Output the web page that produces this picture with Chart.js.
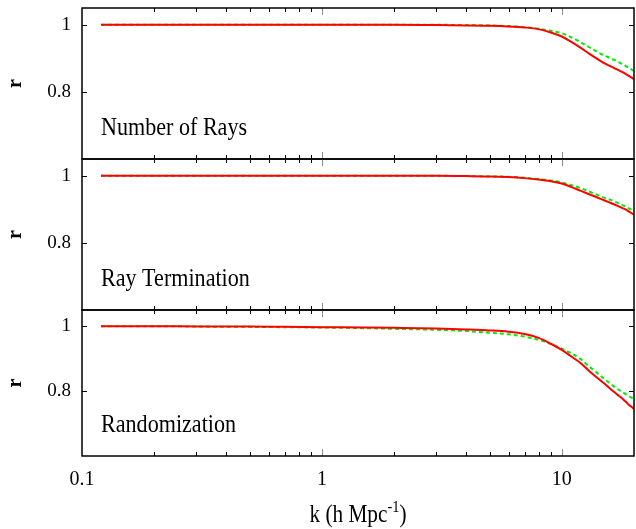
<!DOCTYPE html>
<html>
<head>
<meta charset="utf-8">
<script src="https://cdn.jsdelivr.net/npm/chart.js@4/dist/chart.umd.min.js"></script>
<style>
  body { margin: 0; background: #fff; }
  #wrap { position: relative; width: 636px; height: 529px; }
  #wrap canvas { position: absolute; left: 0; top: 0; }
</style>
</head>
<body>
<div id="wrap">
  <canvas id="panel-rays" width="636" height="529"></canvas>
  <canvas id="panel-term" width="636" height="529"></canvas>
  <canvas id="panel-rand" width="636" height="529"></canvas>
</div>
<script>
// k values (h Mpc^-1) shared by all three panels
const kValues = [0.12, 0.15, 0.2, 0.3, 0.5, 0.7, 1, 1.5, 2, 3, 4, 5, 6, 7, 8, 9, 10,
                 11, 12, 13, 14, 15, 16, 17, 18, 18.5, 19, 19.5, 20];

// Number of Rays
const raysRed   = [1, 1, 1, 1, 1, 1, 1, 1, 1, 0.999, 0.998, 0.997, 0.995, 0.992, 0.987, 0.977, 0.965,
                   0.948, 0.931, 0.914, 0.899, 0.886, 0.876, 0.867, 0.858, 0.853, 0.848, 0.843, 0.838];
const raysGreen = [1, 1, 1, 1, 1, 1, 1, 1, 1, 1, 0.999, 0.998, 0.996, 0.993, 0.988, 0.982, 0.975,
                   0.962, 0.948, 0.933, 0.920, 0.909, 0.900, 0.891, 0.882, 0.877, 0.872, 0.867, 0.862];

// Ray Termination
const termRed   = [1, 1, 1, 1, 1, 1, 1, 1, 1, 1, 0.999, 0.998, 0.996, 0.993, 0.989, 0.984, 0.977,
                   0.966, 0.955, 0.945, 0.936, 0.927, 0.919, 0.911, 0.903, 0.899, 0.894, 0.889, 0.884];
const termGreen = [1, 1, 1, 1, 1, 1, 1, 1, 1, 1, 0.999, 0.998, 0.997, 0.994, 0.990, 0.986, 0.980,
                   0.972, 0.963, 0.953, 0.944, 0.935, 0.928, 0.920, 0.912, 0.908, 0.903, 0.899, 0.895];

// Randomization
const randRed   = [1, 1, 1, 0.9995, 0.999, 0.998, 0.997, 0.996, 0.995, 0.993, 0.990, 0.987, 0.983, 0.976, 0.964, 0.946, 0.927,
                   0.906, 0.886, 0.862, 0.842, 0.824, 0.806, 0.790, 0.775, 0.767, 0.758, 0.752, 0.745];
const randGreen = [1, 1, 1, 0.999, 0.998, 0.997, 0.996, 0.994, 0.992, 0.989, 0.985, 0.980, 0.975, 0.968, 0.958, 0.945, 0.931,
                   0.916, 0.898, 0.876, 0.857, 0.838, 0.822, 0.807, 0.796, 0.790, 0.785, 0.780, 0.776];

const xTicks = [0.1, 1, 10];
const yTicks = [0.8, 1];

const serif = "'Liberation Serif', 'Times New Roman', serif";

function isDecade(v) {
  const e = Math.log10(v);
  return Math.abs(e - Math.round(e)) < 1e-6;
}
function isWholeStep(v) {
  const m = v / Math.pow(10, Math.floor(Math.log10(v) + 1e-9));
  return Math.abs(m - Math.round(m)) < 1e-6;
}

// frame, inward ticks, panel text
const panelFrame = {
  id: 'panelFrame',
  afterDraw(chart, args, opts) {
    const ctx = chart.ctx, a = chart.chartArea;
    const xs = chart.scales.x, ys = chart.scales.y;
    ctx.save();

    xs.ticks.forEach(t => {
      if (t.value <= xs.min || t.value >= xs.max || !isWholeStep(t.value)) return;
      const px = Math.round(xs.getPixelForValue(t.value)) + 0.5;
      const major = isDecade(t.value);
      const len = major ? 7 : 4;
      ctx.strokeStyle = major ? '#8c8c8c' : '#000';
      ctx.lineWidth = 1;
      ctx.beginPath();
      ctx.moveTo(px, a.bottom); ctx.lineTo(px, a.bottom - len);
      ctx.moveTo(px, a.top); ctx.lineTo(px, a.top + len);
      ctx.stroke();
    });

    ctx.strokeStyle = '#000';
    ys.ticks.forEach(t => {
      const py = Math.round(ys.getPixelForValue(t.value)) + 0.5;
      ctx.beginPath();
      ctx.moveTo(a.left, py); ctx.lineTo(a.left + 5, py);
      ctx.moveTo(a.right, py); ctx.lineTo(a.right - 5, py);
      ctx.stroke();
    });

    ctx.lineWidth = 1.5;
    ctx.strokeRect(a.left, a.top, a.right - a.left, a.bottom - a.top);

    ctx.fillStyle = '#000';
    // panel label
    ctx.save();
    ctx.font = '26px ' + serif;
    ctx.textBaseline = 'alphabetic';
    ctx.translate(a.left + 19, a.bottom - 24);
    ctx.scale(0.85, 1);
    ctx.fillText(opts.label, 0, 0);
    ctx.restore();

    // y title
    ctx.save();
    ctx.font = 'bold 20px ' + serif;
    ctx.textAlign = 'center';
    ctx.textBaseline = 'middle';
    ctx.translate(16, (a.top + a.bottom) / 2);
    ctx.rotate(-Math.PI / 2);
    ctx.fillText('r', 0, 0);
    ctx.restore();

    // x title with superscript
    if (opts.xTitle) {
      const sx = 0.85;
      const main = 'k (h Mpc', sup = '-1', close = ')';
      ctx.font = '25px ' + serif;
      const w1 = ctx.measureText(main).width * sx;
      const w3 = ctx.measureText(close).width * sx;
      ctx.font = '17px ' + serif;
      const w2 = ctx.measureText(sup).width * sx;
      let x = (a.left + a.right) / 2 - (w1 + w2 + w3) / 2;
      const base = 522;
      ctx.textBaseline = 'alphabetic';
      ctx.save(); ctx.translate(x, base); ctx.scale(sx, 1);
      ctx.font = '25px ' + serif; ctx.fillText(main, 0, 0); ctx.restore();
      x += w1;
      ctx.save(); ctx.translate(x, base - 10); ctx.scale(sx, 1);
      ctx.font = '17px ' + serif; ctx.fillText(sup, 0, 0); ctx.restore();
      x += w2;
      ctx.save(); ctx.translate(x, base); ctx.scale(sx, 1);
      ctx.font = '25px ' + serif; ctx.fillText(close, 0, 0); ctx.restore();
    }
    ctx.restore();
  }
};

function makePanel(id, label, red, green, top, bottom, showX) {
  return new Chart(document.getElementById(id), {
    type: 'line',
    data: {
      datasets: [
        {
          label: label + ' (red)',
          data: kValues.map((k, i) => ({ x: k, y: red[i] })),
          borderColor: '#ff0000',
          borderWidth: 2,
          pointRadius: 0,
          cubicInterpolationMode: 'monotone'
        },
        {
          label: label + ' (green)',
          data: kValues.map((k, i) => ({ x: k, y: green[i] })),
          borderColor: '#00ee00',
          borderWidth: 2,
          borderDash: [4, 3],
          pointRadius: 0,
          cubicInterpolationMode: 'monotone'
        }
      ]
    },
    options: {
      responsive: false,
      animation: false,
      devicePixelRatio: 1,
      layout: { padding: { top: top, bottom: bottom, left: 0, right: 2 } },
      plugins: {
        legend: { display: false },
        tooltip: { enabled: false },
        panelFrame: { label: label, xTitle: showX }
      },
      scales: {
        x: {
          type: 'logarithmic',
          min: 0.1,
          max: 20,
          grid: { display: false, drawTicks: false },
          border: { display: false },
          ticks: {
            display: showX,
            autoSkip: false,
            maxRotation: 0,
            padding: 12,
            color: '#000',
            font: { family: serif, size: 20 },
            callback: function (value) {
              const hit = xTicks.find(t => Math.abs(value - t) < t * 1e-6);
              return hit !== undefined ? String(hit) : '';
            }
          },
          afterFit: function (scale) {
            scale.height = showX ? 73 : 0;
            scale.paddingLeft = 0;
            scale.paddingRight = 0;
          }
        },
        y: {
          min: 0.6,
          max: 1.05,
          afterBuildTicks: function (scale) {
            scale.ticks = yTicks.map(v => ({ value: v }));
          },
          grid: { display: false, drawTicks: false },
          border: { display: false },
          ticks: {
            padding: 11,
            color: '#000',
            font: { family: serif, size: 19 },
            callback: function (value) { return String(value); }
          },
          afterFit: function (scale) {
            scale.width = 82;
            scale.paddingTop = 0;
            scale.paddingBottom = 0;
          }
        }
      }
    },
    plugins: [panelFrame]
  });
}

makePanel('panel-rays', 'Number of Rays', raysRed, raysGreen, 8, 370, false);
makePanel('panel-term', 'Ray Termination', termRed, termGreen, 159, 219, false);
makePanel('panel-rand', 'Randomization', randRed, randGreen, 310, 0, true);
</script>
</body>
</html>
